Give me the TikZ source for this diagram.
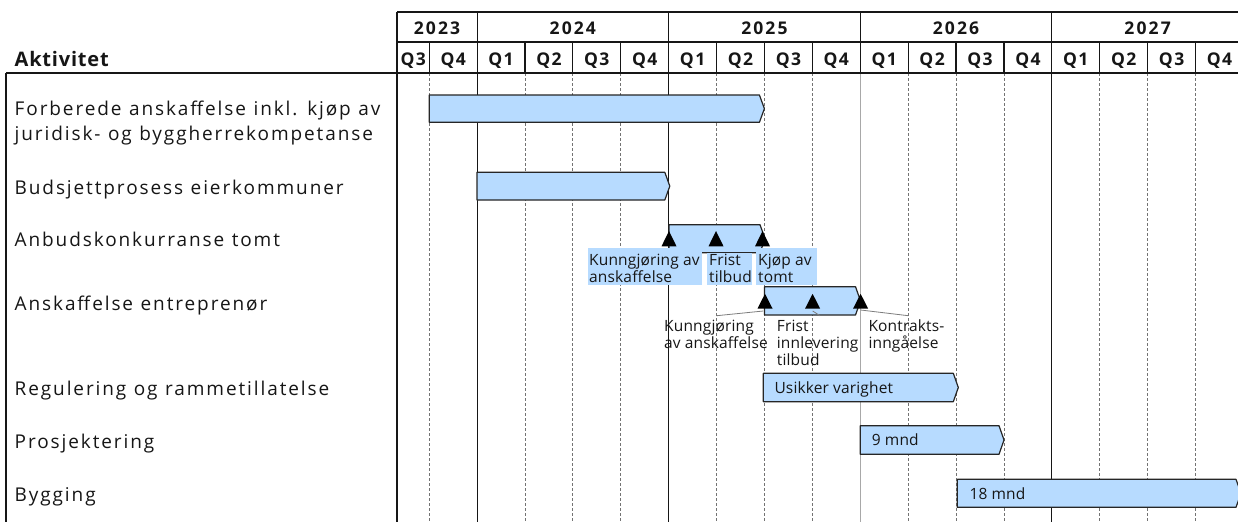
\documentclass[tikz,border=0pt]{standalone}
\usepackage{fontspec}
\setmainfont{Open Sans}[LetterSpace=10]
\newfontfamily\msfont{Open Sans}[LetterSpace=1]
\newfontfamily\yrfont{Open Sans}[LetterSpace=12]
\newfontfamily\qfont{Open Sans}[LetterSpace=8]
\newfontfamily\akfont{Open Sans}[LetterSpace=4]
\newcommand\widespace{\spaceskip=7.5pt plus 1pt minus 1pt\relax}
\definecolor{barfill}{RGB}{183,219,255}
\definecolor{baredge}{RGB}{38,38,38}
\definecolor{ink}{RGB}{22,22,22}
\definecolor{gridc}{RGB}{115,115,115}
\definecolor{lightyr}{RGB}{168,168,168}
\definecolor{leadc}{RGB}{125,125,125}
\tikzset{
  hline/.style={draw=ink, line width=1.2pt},
  yline/.style={draw=ink, line width=1pt},
  ylinegray/.style={draw=lightyr, line width=1.3pt},
  qline/.style={draw=gridc, line width=0.7pt, dash pattern=on 3pt off 2pt},
  ganttbar/.style={draw=baredge, fill=barfill, line width=1.2pt, line join=round},
  mstone/.style={fill=black},
  leader/.style={draw=leadc, line width=0.8pt},
  lblbox/.style={fill=barfill, draw=none, inner sep=0pt, anchor=north west},
  acttxt/.style={font=\fontsize{19}{25}\selectfont\widespace, text=ink, inner sep=0pt, anchor=base west, align=left},
  mstxt/.style={font=\msfont\fontsize{15.5}{17}\selectfont, text=ink, inner sep=0pt, anchor=base west, align=left},
  yeartxt/.style={font=\yrfont\bfseries\fontsize{17.5}{20}\selectfont, text=ink, inner sep=0pt, anchor=base},
  qtxt/.style={font=\qfont\bfseries\fontsize{17.5}{20}\selectfont, text=ink, inner sep=0pt, anchor=base},
  aktxt/.style={font=\akfont\bfseries\fontsize{20}{24}\selectfont, text=ink, inner sep=0pt, anchor=base west},
}
\newcommand\gbar[5]{% name, left, tip, top, bottom
  \draw[ganttbar] (#2,#4) coordinate (#1nw) -- ({#3-5},#4) -- (#3,{(#4+#5)/2}) coordinate (#1tip) -- ({#3-5},#5) -- (#2,#5) coordinate (#1sw) -- cycle;}
\newcommand\mstonemark[4]{% name, x, apex y, base y
  \fill[mstone] (#2,#3) coordinate (#1) -- ({#2+7.5},#4) -- ({#2-7.5},#4) -- cycle;}
\begin{document}
\begin{tikzpicture}[x=1pt,y=-1pt]
\useasboundingbox (0,0) rectangle (1238,522);
\fill[white] (0,0) rectangle (1238,522);

% grid
\foreach \x in {429.3,524.9,572.8,620.7,716.5,764.4,812.3,908.1,956,1003.9,1099.7,1147.6,1195.5}{
  \draw[qline] (\x,73) -- (\x,522);
  \draw[hline] (\x,42) -- (\x,73);
}
\foreach \x in {477,668.6,1051.8}{\draw[yline] (\x,12) -- (\x,522);}
\draw[yline] (860.2,12) -- (860.2,73);
\draw[ylinegray] (860.2,73) -- (860.2,522);
\draw[hline] (397,12) -- (1238,12);
\draw[hline] (397,42) -- (1238,42);
\draw[hline] (6,73) -- (1238,73);
\draw[hline] (397,12) -- (397,522);
\draw[hline] (6,73) -- (6,522);

% header texts
\node[aktxt] (akt) at (14.5,66) {Aktivitet};
\foreach \x/\t in {437/2023,572.8/2024,764.4/2025,956/2026,1147.6/2027}{
  \node[yeartxt] (yr\t) at (\x,34.3) {\t};
}
\foreach \x/\t/\n in {413.2/Q3/a,453.2/Q4/b,501/Q1/c,548.9/Q2/d,596.8/Q3/e,644.7/Q4/f,692.6/Q1/g,740.5/Q2/h,788.4/Q3/i,836.3/Q4/j,884.2/Q1/k,932.1/Q2/l,980/Q3/m,1027.9/Q4/n,1075.8/Q1/o,1123.7/Q2/p,1171.6/Q3/q,1219.5/Q4/r}{
  \node[qtxt] (q\n) at (\x,65.3) {\t};
}

% activity labels (base = last line)
\node[acttxt] (a1) at (14.5,140.5) {Forberede anskaffelse inkl. kjøp av\\juridisk- og byggherrekompetanse};
\node[acttxt] (a2) at (14.5,194) {Budsjettprosess eierkommuner};
\node[acttxt] (a3) at (14.5,246.7) {Anbudskonkurranse tomt};
\node[acttxt] (a4) at (14.5,310.5) {Anskaffelse entreprenør};
\node[acttxt] (a5) at (14.5,395.7) {Regulering og rammetillatelse};
\node[acttxt] (a6) at (14.5,448.3) {Prosjektering};
\node[acttxt] (a7) at (14.5,501.7) {Bygging};

% bars
\gbar{b1}{429.3}{764.4}{95}{122.3}
\gbar{b2}{477}{669.8}{172.3}{200}
\gbar{b3}{669}{765}{224.7}{252.7}
\gbar{b4}{764.4}{860.5}{286.7}{315}
\gbar{b5}{763.3}{958.3}{373.3}{401.7}
\gbar{b6}{860.2}{1004}{425.7}{454.3}
\gbar{b7}{957.3}{1241}{479.3}{507.3}

% milestones
\mstonemark{m1}{669}{231}{246.3}
\mstonemark{m2}{716}{231}{246.3}
\mstonemark{m3}{762.5}{231}{246.3}
\mstonemark{m4}{765}{293.8}{308.5}
\mstonemark{m5}{812.6}{293.8}{308.5}
\mstonemark{m6}{860.6}{293.8}{308.5}

% tomt milestone labels
\node[lblbox, minimum width=113.7, minimum height=37.7] (t1box) at (588,247.3) {};
\node[lblbox, minimum width=45, minimum height=32.5] (t2box) at (706.7,252.5) {};
\node[lblbox, minimum width=60.7, minimum height=37.7] (t3box) at (756,247.3) {};
\node[mstxt] (t1) at (589,282) {Kunngjøring av\\anskaffelse};
\node[mstxt] (t2) at (709,282) {Frist\\tilbud};
\node[mstxt] (t3) at (758,282) {Kjøp av\\tomt};

% entreprenør milestone labels
\node[mstxt] (e1) at (664,348.7) {Kunngjøring\\av anskaffelse};
\node[mstxt] (e2) at (776.7,365.7) {Frist\\innlevering\\tilbud};
\node[mstxt] (e3) at (868.3,348.7) {Kontrakts-\\inngåelse};
\coordinate (l1a) at (763.3,311);
\coordinate (l1b) at (716.7,315.7);
\coordinate (l2a) at (812.7,311);
\coordinate (l2b) at (820,315.7);
\coordinate (l3a) at (860.7,310);
\coordinate (l3b) at (908.3,315.7);
\draw[leader] (l1a) -- (l1b);
\draw[leader] (l2a) -- (l2b);
\draw[leader] (l3a) -- (l3b);

% bar texts
\node[mstxt] (d5) at (774.3,393.3) {Usikker varighet};
\node[mstxt] (d6) at (871.7,445.8) {9 mnd};
\node[mstxt] (d7) at (969.3,499) {18 mnd};
\end{tikzpicture}
\end{document}
